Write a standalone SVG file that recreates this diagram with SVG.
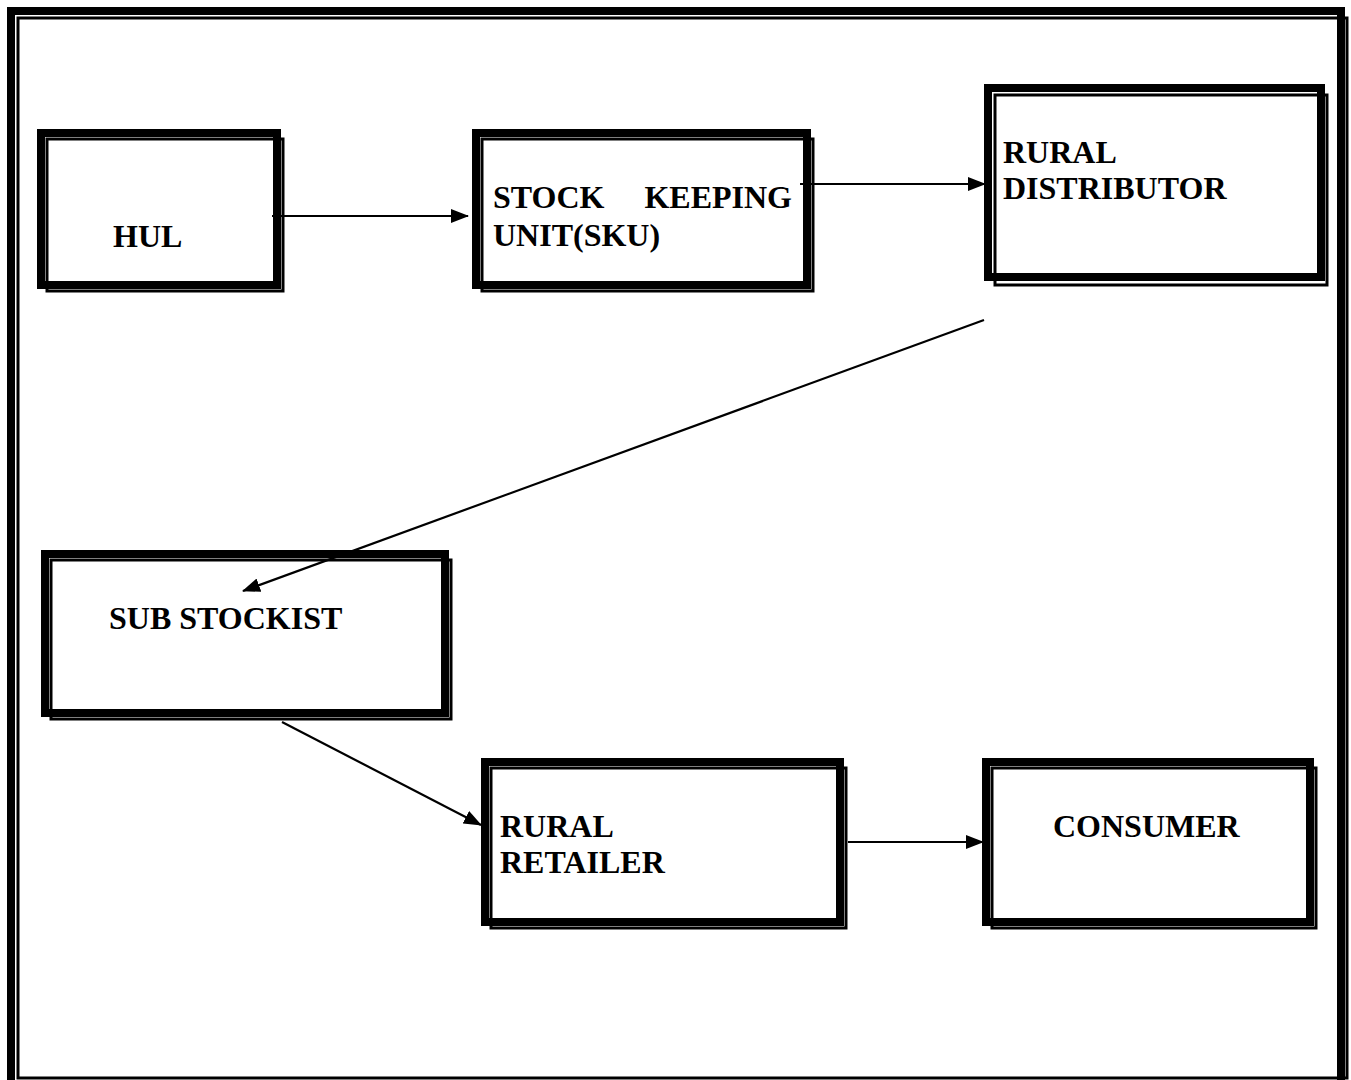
<svg xmlns="http://www.w3.org/2000/svg" width="1351" height="1080" viewBox="0 0 1351 1080">
<style>
.thick{fill:none;stroke:#000;stroke-width:8}
.thin{fill:none;stroke:#000;stroke-width:3}
.lbl{font-family:"Liberation Serif","Times New Roman",serif;font-weight:bold;font-size:32px;fill:#000}
.conn{stroke:#000;stroke-width:2.2;fill:none;marker-end:url(#ah)}
</style>
<defs>
<marker id="ah" viewBox="0 0 18 14" refX="17" refY="7" markerWidth="18" markerHeight="14" markerUnits="userSpaceOnUse" orient="auto">
<path d="M0,0 L18,7 L0,14 Z" fill="#000"/>
</marker>
</defs>
<rect width="1351" height="1080" fill="#fff"/>
<g id="page-border">
<rect class="thick" x="11" y="11" width="1330" height="1076"/>
<rect class="thin" x="18" y="18" width="1329" height="1060"/>
</g>
<g id="hul">
<rect class="thick" x="41" y="133" width="236" height="152"/>
<rect class="thin" x="47" y="139" width="236" height="152"/>
<text class="lbl" x="113" y="247">HUL</text>
</g>
<g id="sku">
<rect class="thick" x="476" y="133" width="331" height="152"/>
<rect class="thin" x="482" y="139" width="331" height="152"/>
<text class="lbl" x="493" y="208">STOCK</text>
<text class="lbl" x="792" y="208" text-anchor="end">KEEPING</text>
<text class="lbl" x="493" y="246">UNIT(SKU)</text>
</g>
<g id="rural-distributor">
<rect class="thick" x="988" y="88" width="333" height="189"/>
<rect class="thin" x="995" y="95" width="332" height="190"/>
<text class="lbl" x="1003" y="163">RURAL</text>
<text class="lbl" x="1003" y="199">DISTRIBUTOR</text>
</g>
<g id="sub-stockist">
<rect class="thick" x="45" y="554" width="400" height="159"/>
<rect class="thin" x="51" y="560" width="400" height="159"/>
<text class="lbl" x="109" y="629">SUB STOCKIST</text>
</g>
<g id="rural-retailer">
<rect class="thick" x="485" y="762" width="355" height="160"/>
<rect class="thin" x="491" y="768" width="355" height="160"/>
<text class="lbl" x="500" y="837">RURAL</text>
<text class="lbl" x="500" y="873">RETAILER</text>
</g>
<g id="consumer">
<rect class="thick" x="986" y="762" width="324" height="160"/>
<rect class="thin" x="992" y="768" width="324" height="160"/>
<text class="lbl" x="1053" y="837">CONSUMER</text>
</g>
<g id="connectors">
<line class="conn" x1="272" y1="216" x2="468" y2="216"/>
<line class="conn" x1="800" y1="184" x2="985" y2="184"/>
<line class="conn" x1="984" y1="320" x2="243" y2="591"/>
<line class="conn" x1="282" y1="722" x2="481" y2="825"/>
<line class="conn" x1="848" y1="842" x2="983" y2="842"/>
</g>
</svg>
